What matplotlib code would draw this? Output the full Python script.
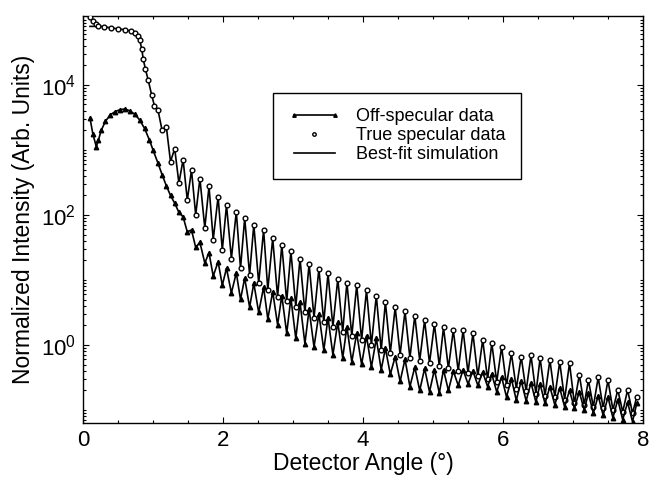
"""
Specular vs off-specular reflectivity with best-fit simulation.
"""

import numpy as np
import matplotlib
matplotlib.use("Agg")
import matplotlib.pyplot as plt
from matplotlib.ticker import FixedLocator, LogLocator, MultipleLocator, NullFormatter
from matplotlib.legend_handler import HandlerLine2D

plt.rcParams["font.family"] = ["Liberation Sans", "DejaVu Sans"]
plt.rcParams["mathtext.default"] = "regular"

# low-angle part (below the fringes), log10 intensity
SPEC_LOW_ANGLE = [0.10, 0.14, 0.18, 0.22, 0.30, 0.40, 0.50, 0.60, 0.68,
                  0.74, 0.78, 0.81, 0.84, 0.86, 0.89, 0.93, 0.98, 1.02]
SPEC_LOW_LOG = [5.05, 4.98, 4.93, 4.91, 4.89, 4.88, 4.86, 4.85, 4.83,
                4.80, 4.76, 4.69, 4.55, 4.40, 4.25, 4.08, 3.85, 3.68]

OFF_LOW_ANGLE = [0.10, 0.14, 0.19, 0.22, 0.26, 0.32, 0.39, 0.46, 0.53,
                 0.60, 0.67, 0.74, 0.81, 0.88, 0.95, 1.00]
OFF_LOW_LOG = [3.49, 3.25, 3.05, 3.15, 3.30, 3.44, 3.54, 3.59, 3.62,
               3.63, 3.60, 3.55, 3.46, 3.33, 3.15, 3.00]

# simulation runs flat at the very start
SIM_START_ANGLE = [0.10, 0.16]
SIM_START_LOG = [4.90, 4.90]

# fringe maxima / minima positions (degrees)
PEAK_ANGLE = [1.07, 1.19, 1.31, 1.43, 1.55, 1.67, 1.80, 1.93, 2.05, 2.19,
              2.31, 2.44, 2.58, 2.71, 2.84, 2.97, 3.10, 3.23, 3.37, 3.50,
              3.64, 3.77, 3.91, 4.05, 4.19, 4.32, 4.46, 4.60, 4.74, 4.88,
              5.02, 5.15, 5.29, 5.43, 5.57, 5.71, 5.84, 5.98, 6.12, 6.26,
              6.40, 6.53, 6.67, 6.81, 6.95, 7.09, 7.22, 7.36, 7.50, 7.64,
              7.78, 7.91]
TROUGH_ANGLE = [1.13, 1.25, 1.37, 1.49, 1.61, 1.74, 1.86, 1.99, 2.12, 2.25,
                2.38, 2.51, 2.64, 2.78, 2.91, 3.04, 3.17, 3.30, 3.44, 3.57,
                3.71, 3.84, 3.98, 4.12, 4.26, 4.39, 4.53, 4.67, 4.81, 4.95,
                5.09, 5.22, 5.36, 5.50, 5.64, 5.78, 5.91, 6.05, 6.19, 6.33,
                6.47, 6.60, 6.74, 6.88, 7.02, 7.16, 7.29, 7.43, 7.57, 7.71,
                7.85]

# true specular data, log10 intensity
SPEC_PEAK_LOG = [3.62, 3.36, 3.02, 2.85, 2.69, 2.56, 2.44, 2.28, 2.15, 2.05,
                 1.95, 1.85, 1.77, 1.64, 1.54, 1.44, 1.33, 1.25, 1.17, 1.10,
                 1.02, 0.96, 0.92, 0.84, 0.76, 0.66, 0.58, 0.52, 0.45, 0.38,
                 0.32, 0.27, 0.23, 0.23, 0.18, 0.08, 0.03, -0.03, -0.13, -0.18,
                 -0.16, -0.20, -0.23, -0.26, -0.28, -0.46, -0.54, -0.50, -0.54, -0.69,
                 -0.69, -0.80]
SPEC_TROUGH_LOG = [3.30, 2.82, 2.49, 2.23, 2.00, 1.80, 1.62, 1.46, 1.33, 1.18,
                   1.08, 0.95, 0.85, 0.74, 0.67, 0.59, 0.50, 0.42, 0.35, 0.28,
                   0.20, 0.14, 0.08, 0.00, -0.08, -0.12, -0.15, -0.20, -0.24, -0.28,
                   -0.32, -0.36, -0.40, -0.43, -0.48, -0.53, -0.57, -0.62, -0.67, -0.71,
                   -0.75, -0.78, -0.80, -0.84, -0.90, -0.92, -0.95, -0.97, -1.00, -1.03,
                   -1.05]

# off-specular data, log10 intensity
OFF_PEAK_LOG = [2.80, 2.45, 2.18, 1.97, 1.77, 1.58, 1.42, 1.28, 1.18, 1.11,
                1.03, 0.95, 0.89, 0.82, 0.76, 0.72, 0.66, 0.55, 0.48, 0.42,
                0.35, 0.28, 0.18, 0.14, 0.10, -0.05, -0.18, -0.22, -0.34, -0.36,
                -0.38, -0.38, -0.40, -0.38, -0.40, -0.42, -0.45, -0.49, -0.52, -0.55,
                -0.58, -0.60, -0.64, -0.66, -0.70, -0.72, -0.74, -0.78, -0.80, -0.84,
                -0.88, -0.90]
OFF_TROUGH_LOG = [2.62, 2.30, 2.04, 1.74, 1.50, 1.26, 1.06, 0.92, 0.80, 0.70,
                  0.58, 0.50, 0.40, 0.31, 0.18, 0.10, 0.02, -0.03, -0.08, -0.15,
                  -0.20, -0.26, -0.30, -0.34, -0.38, -0.45, -0.56, -0.64, -0.70, -0.72,
                  -0.74, -0.70, -0.62, -0.60, -0.62, -0.64, -0.72, -0.80, -0.85, -0.86,
                  -0.88, -0.90, -0.92, -0.95, -0.97, -1.00, -1.05, -1.08, -1.12, -1.15,
                  -1.18]


def _zigzag(peaks, troughs):
    """Interleave maxima and minima: peak, trough, peak, ..."""
    out = np.empty(len(peaks) + len(troughs))
    out[0::2] = peaks
    out[1::2] = troughs
    return out


fringe_x = _zigzag(PEAK_ANGLE, TROUGH_ANGLE)

spec_x = np.concatenate([SPEC_LOW_ANGLE, fringe_x])
spec_y = 10 ** np.concatenate([SPEC_LOW_LOG, _zigzag(SPEC_PEAK_LOG, SPEC_TROUGH_LOG)])

off_x = np.concatenate([OFF_LOW_ANGLE, fringe_x])
off_y = 10 ** np.concatenate([OFF_LOW_LOG, _zigzag(OFF_PEAK_LOG, OFF_TROUGH_LOG)])

keep = spec_x >= 0.22
sim_x = np.concatenate([SIM_START_ANGLE, spec_x[keep]])
sim_y = np.concatenate([10 ** np.array(SIM_START_LOG), spec_y[keep]])

fig = plt.figure(figsize=(6.52, 4.82), dpi=100)
ax = fig.add_axes([0.1273, 0.1224, 0.8589, 0.8444])

ax.set_yscale("log")

sim_line, = ax.plot(sim_x, sim_y, color="black", lw=1.2, zorder=2)
spec_line, = ax.plot(spec_x, spec_y, ls="none", marker="o", ms=3.4,
                     mfc="white", mec="black", mew=1.0, zorder=3)
off_line, = ax.plot(off_x, off_y, color="black", lw=1.2, marker="^",
                    ms=3.2, mfc="black", mec="black", zorder=4)

ax.set_xlim(0, 8)
ax.set_ylim(10 ** -1.2, 10 ** 5.06)

ax.xaxis.set_major_locator(MultipleLocator(2))
ax.xaxis.set_minor_locator(MultipleLocator(0.5))
ax.yaxis.set_major_locator(FixedLocator([1e0, 1e2, 1e4]))
ax.yaxis.set_minor_locator(LogLocator(base=10, subs=np.arange(1, 10), numticks=20))
ax.yaxis.set_minor_formatter(NullFormatter())

ax.tick_params(which="both", direction="in", top=True, right=True,
               labelsize=16, width=0.8)
ax.tick_params(which="major", length=4, pad=5)
ax.tick_params(which="minor", length=2.5)
for spine in ax.spines.values():
    spine.set_linewidth(1.0)

ax.set_xlabel("Detector Angle (°)", fontsize=16.5, labelpad=1)
ax.set_ylabel("Normalized Intensity (Arb. Units)", fontsize=16.5, labelpad=4)

leg = ax.legend(
    [off_line, spec_line, sim_line],
    ["Off-specular data", "True specular data", "Best-fit simulation"],
    loc="upper left", bbox_to_anchor=(0.339, 0.812), borderaxespad=0,
    fontsize=13, numpoints=2, handlelength=2.9, handletextpad=0.85,
    labelspacing=0.12, borderpad=0.85, fancybox=False, framealpha=1,
    edgecolor="black",
    handler_map={spec_line: HandlerLine2D(numpoints=1)},
)
leg.get_frame().set_linewidth(1.0)
for h in leg.legend_handles:
    h.set_markersize(2.5)

fig.savefig("out.png", dpi=100)
